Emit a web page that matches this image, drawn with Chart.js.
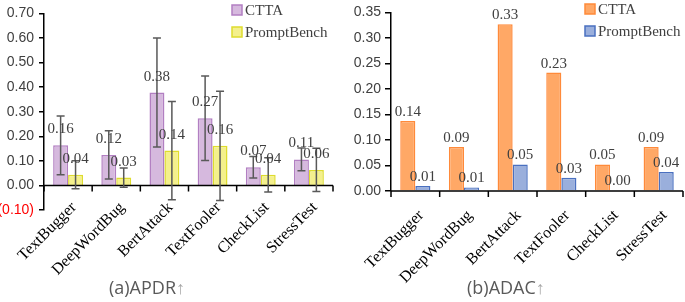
<!DOCTYPE html>
<html>
<head>
<meta charset="utf-8">
<script src="https://cdn.jsdelivr.net/npm/chart.js@4.4.0/dist/chart.umd.min.js"></script>
<style>
  body { margin: 0; background: #fff; }
  .panel { position: absolute; top: 0; height: 302px; }
  .title { position: absolute; top: 275px; font-family: "Open Sans", sans-serif; font-size: 18px; color: #595959; white-space: nowrap; }
  .title span { color: #a6a6a6; }
</style>
</head>
<body>
<div class="panel" style="left:0;width:340px"><canvas id="chartA" width="340" height="302"></canvas></div>
<div class="panel" style="left:340px;width:345px"><canvas id="chartB" width="345" height="302"></canvas></div>
<div class="title" style="left:109px">(a)APDR<span>↑</span></div>
<div class="title" style="left:467px">(b)ADAC<span>↑</span></div>
<script>
// Data
const methods = ['TextBugger', 'DeepWordBug', 'BertAttack', 'TextFooler', 'CheckList', 'StressTest'];
const seriesNames = ['CTTA', 'PromptBench'];

// (a) APDR
const apdrCtta = [0.163, 0.124, 0.378, 0.273, 0.074, 0.106];
const apdrCttaErr = [0.12, 0.098, 0.222, 0.172, 0.044, 0.046];
const apdrPrompt = [0.043, 0.032, 0.142, 0.161, 0.043, 0.063];
const apdrPromptErr = [0.057, 0.039, 0.2, 0.222, 0.07, 0.088];
const apdrTicks = [-0.1, 0.7, 0.1];

// (b) ADAC
const adacCtta = [0.137, 0.086, 0.327, 0.232, 0.052, 0.086];
const adacPrompt = [0.01, 0.007, 0.052, 0.026, 0.002, 0.037];
const adacTicks = [0, 0.35, 0.05];

const serif = '"Liberation Serif", "Times New Roman", serif';
const sans = '"Liberation Sans", Arial, sans-serif';

// draws error bars, value labels, axis line at zero, category labels and legend
const extras = {
  id: 'extras',
  afterDatasetsDraw(chart, args, opts) {
    const ctx = chart.ctx;
    const xs = chart.scales.x, ys = chart.scales.y;
    const area = chart.chartArea;
    ctx.save();
    // x axis at zero
    const y0 = ys.getPixelForValue(0);
    ctx.strokeStyle = '#000';
    ctx.lineWidth = 1.5;
    ctx.beginPath();
    ctx.moveTo(area.left, y0);
    ctx.lineTo(area.right, y0);
    const step = (area.right - area.left) / methods.length;
    for (let i = 0; i <= methods.length; i++) {
      const x = area.left + step * i;
      ctx.moveTo(x, y0);
      ctx.lineTo(x, y0 + 6);
    }
    ctx.stroke();

    // rotated category labels (drawn here so they can sit above the scale box)
    ctx.fillStyle = '#000';
    ctx.font = '16px ' + serif;
    ctx.textAlign = 'right';
    ctx.textBaseline = 'middle';
    methods.forEach((m, i) => {
      ctx.save();
      ctx.translate(xs.getPixelForValue(i) + opts.labelDx, opts.labelY);
      ctx.rotate(-Math.PI / 4);
      ctx.fillText(m, 0, 0);
      ctx.restore();
    });

    chart.data.datasets.forEach((ds, di) => {
      const meta = chart.getDatasetMeta(di);
      meta.data.forEach((bar, i) => {
        const v = ds.data[i];
        // error bars
        if (ds.errors) {
          const e = ds.errors[i];
          const top = ys.getPixelForValue(v + e);
          const bot = ys.getPixelForValue(v - e);
          ctx.strokeStyle = '#595959';
          ctx.lineWidth = 1.5;
          ctx.beginPath();
          ctx.moveTo(bar.x, top); ctx.lineTo(bar.x, bot);
          ctx.moveTo(bar.x - 4, top); ctx.lineTo(bar.x + 4, top);
          ctx.moveTo(bar.x - 4, bot); ctx.lineTo(bar.x + 4, bot);
          ctx.stroke();
        }
        // value label
        ctx.fillStyle = '#404040';
        ctx.font = '15px ' + serif;
        ctx.textAlign = 'center';
        ctx.textBaseline = 'alphabetic';
        ctx.fillText(v.toFixed(2), bar.x, bar.y - opts.labelGap);
      });
    });

    // legend
    chart.data.datasets.forEach((ds, di) => {
      const lx = opts.legendX, ly = opts.legendY + di * 22;
      ctx.fillStyle = ds.backgroundColor;
      ctx.strokeStyle = ds.borderColor;
      ctx.lineWidth = 1.5;
      ctx.fillRect(lx, ly, 10, 10);
      ctx.strokeRect(lx, ly, 10, 10);
      ctx.fillStyle = '#404040';
      ctx.font = '15px ' + serif;
      ctx.textAlign = 'left';
      ctx.textBaseline = 'middle';
      ctx.fillText(seriesNames[di], lx + 13, ly + 6);
    });
    ctx.restore();
  }
};

function makeChart(id, cttaVals, promptVals, colors, ticks, yWidth, xHeight, opts, errs) {
  const dsA = {
    label: seriesNames[0], data: cttaVals,
    backgroundColor: colors[0], borderColor: colors[1], borderWidth: 1.5,
    categoryPercentage: 0.62, barPercentage: 1
  };
  const dsB = {
    label: seriesNames[1], data: promptVals,
    backgroundColor: colors[2], borderColor: colors[3], borderWidth: 1.5,
    categoryPercentage: 0.62, barPercentage: 1
  };
  if (errs) { dsA.errors = errs[0]; dsB.errors = errs[1]; }
  return new Chart(document.getElementById(id), {
    type: 'bar',
    data: { labels: methods, datasets: [dsA, dsB] },
    plugins: [extras],
    options: {
      responsive: false,
      animation: false,
      layout: { padding: { top: opts.padTop, right: opts.padRight, left: 0, bottom: 0 } },
      plugins: {
        legend: { display: false },
        tooltip: { enabled: false },
        extras: opts
      },
      scales: {
        x: {
          grid: { display: false },
          border: { display: false },
          ticks: { display: false },
          afterFit: (s) => { s.height = xHeight; }
        },
        y: {
          min: ticks[0], max: ticks[1],
          border: { display: true, color: '#000', width: 1.5 },
          grid: { drawOnChartArea: false, tickLength: opts.yTick, color: '#000', lineWidth: 1.5 },
          ticks: {
            stepSize: ticks[2], padding: opts.yPad,
            font: { family: sans, size: 14 },
            color: (c) => c.tick && c.tick.value < -1e-9 ? '#ff0000' : '#404040',
            callback: (v) => v < -1e-9 ? '(' + Math.abs(v).toFixed(2) + ')' : Math.abs(v).toFixed(2)
          },
          afterFit: (s) => { s.width = yWidth; }
        }
      }
    }
  });
}

makeChart('chartA', apdrCtta, apdrPrompt,
  ['#d6b9de', '#b27fc2', '#f4f08c', '#dedc2e'],
  apdrTicks, 44, 92,
  { labelGap: 12, legendX: 232, legendY: 5, padTop: 6, padRight: 7, labelDx: 6, labelY: 205, yTick: 5, yPad: 5 },
  [apdrCttaErr, apdrPromptErr]);

makeChart('chartB', adacCtta, adacPrompt,
  ['#ffa866', '#ff8a3a', '#9aafdc', '#4a70c0'],
  adacTicks, 51, 111,
  { labelGap: 5, legendX: 245, legendY: 4, padTop: 7, padRight: 2, labelDx: 6, labelY: 213, yTick: 6, yPad: 4 },
  null);
</script>
</body>
</html>
